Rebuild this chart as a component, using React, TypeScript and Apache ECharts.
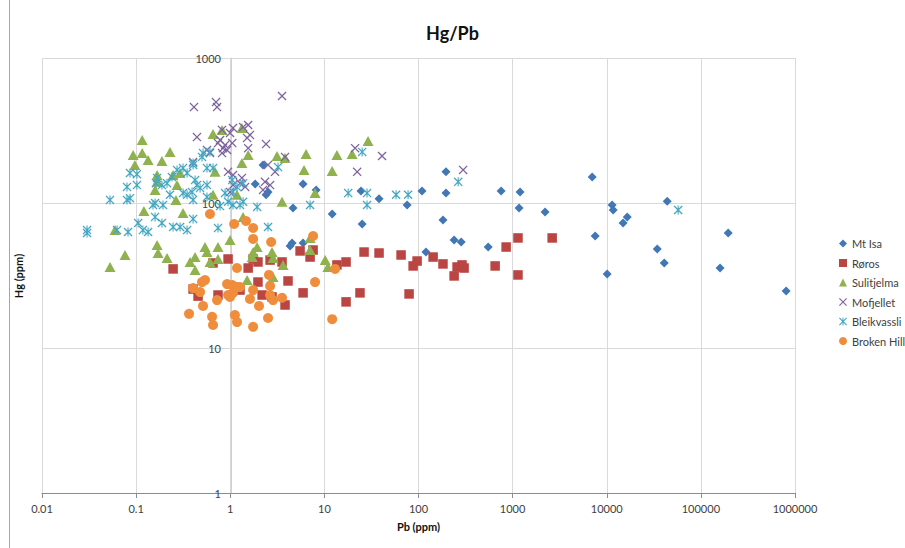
import React, { useEffect, useRef } from "react";
import * as echarts from "echarts";

const xTickLabels = ["0.01", "0.1", "1", "10", "100", "1000", "10000", "100000", "1000000"];
const yTickLabels = ["1", "10", "100", "1000"];
const seriesNames = ["Mt Isa", "Røros", "Sulitjelma", "Mofjellet", "Bleikvassli", "Broken Hill"];

const mtIsa: [number, number][] = [
  [2.23, 183], [1.84, 135], [2.4, 114], [2.52, 119], [5.94, 135], [8.17, 123], [4.64, 92.4], [12.1, 84],
  [4.54, 53], [5.94, 53], [4.32, 50.5], [24.5, 121], [25.2, 71.6], [38.1, 107], [75.7, 96.9], [109, 121],
  [196, 164], [196, 117], [182, 76.3], [120, 45.9], [239, 55.6], [284, 53.8], [550, 49.7], [755, 121],
  [1200, 119], [1170, 92.4], [2210, 86.7], [7000, 151], [7540, 59.2], [11400, 96.9], [11700, 89.5],
  [16500, 80], [14900, 72.8], [10100, 32.4], [43900, 103], [34400, 48.2], [40800, 38.6], [195000, 62.1],
  [160000, 35.6], [805000, 24.7],
];

const roros: [number, number][] = [
  [0.247, 35.1], [0.403, 25.5], [0.455, 22.8], [0.656, 38.6], [0.741, 23.2], [0.948, 41.1], [1.27, 25.1],
  [1.55, 35.6], [1.75, 41.1], [1.97, 39.2], [1.97, 28.5], [2.18, 23.2], [2.65, 40.4], [2.78, 22.5],
  [3.55, 39.2], [4.11, 29.0], [3.82, 19.8], [5.52, 46.7], [5.94, 24.0], [7.05, 42.4], [7.59, 47.4],
  [13.6, 37.4], [17.0, 39.2], [17.0, 20.8], [23.9, 24.0], [26.4, 45.9], [38.1, 45.2], [65.3, 43.8],
  [79.4, 23.6], [87.7, 36.8], [96.6, 39.8], [143, 42.4], [182, 38.0], [239, 31.4], [257, 36.2],
  [290, 37.4], [305, 35.6], [652, 36.8], [853, 49.7], [1140, 57.4], [1140, 31.9], [2630, 57.4],
];

const sulitjelma: [number, number][] = [
  [0.116, 272], [0.093, 214], [0.116, 221], [0.134, 198], [0.188, 195], [0.229, 225], [0.097, 183],
  [0.167, 156], [0.247, 156], [0.293, 161], [0.656, 299], [0.818, 319], [1.33, 329], [1.55, 214],
  [1.33, 189], [0.689, 164], [0.167, 140], [0.272, 133], [0.159, 123], [0.656, 114], [0.265, 105],
  [1.18, 114], [3.14, 211], [3.82, 204], [6.39, 218], [6.08, 169], [7.96, 117], [13.6, 214], [19.7, 218],
  [29.1, 268], [12.1, 166], [3.55, 102], [0.121, 88.1], [0.315, 85.3], [0.0597, 65.1], [0.995, 55.6],
  [1.37, 80.1], [0.167, 51.3], [0.171, 45.2], [0.213, 41.8], [0.0762, 43.8], [0.0528, 36.2], [0.374, 39.2],
  [0.423, 42.4], [0.539, 49.7], [0.566, 45.9], [0.741, 49.7], [0.609, 39.2], [0.741, 41.1], [1.71, 42.4],
  [1.75, 45.9], [1.93, 49.7], [2.78, 45.9], [2.85, 41.8], [3.64, 37.4], [7.05, 47.4], [7.05, 57.4],
  [10.2, 40.4], [10.9, 36.2], [1.51, 29.4], [2.85, 30.9], [0.423, 34.5],
];

const mofjellet: [number, number][] = [
  [0.412, 459], [0.706, 497], [0.724, 459], [3.55, 547], [0.443, 285], [0.818, 319], [0.995, 304],
  [1.07, 329], [1.37, 334], [1.55, 345], [0.78, 272], [0.881, 251], [1.05, 259], [0.925, 232], [0.818, 221],
  [1.51, 281], [1.55, 239], [1.62, 295], [2.4, 255], [3.82, 208], [0.403, 192], [0.566, 232], [0.609, 221],
  [0.948, 164], [1.07, 156], [1.33, 149], [1.07, 133], [1.27, 137], [0.995, 119], [1.44, 129], [2.52, 183],
  [2.99, 164], [2.34, 140], [2.65, 133], [2.23, 123], [21.2, 239], [41.0, 211], [22.3, 164], [298, 169],
  [0.741, 259], [0.838, 239],
];

const bleikvassli: [number, number][] = [
  [0.0301, 65.1], [0.0301, 62.1], [0.0528, 105], [0.0627, 65.1], [0.08, 129], [0.08, 105], [0.0861, 161],
  [0.0861, 108], [0.102, 158], [0.102, 133], [0.082, 63.1], [0.105, 72.8], [0.118, 65.1], [0.134, 63.1],
  [0.151, 96.9], [0.193, 96.9], [0.159, 80.1], [0.188, 72.8], [0.247, 68.3], [0.293, 68.3], [0.348, 65.1],
  [0.403, 77.6], [0.159, 100], [0.167, 149], [0.188, 133], [0.163, 137], [0.213, 137], [0.24, 151],
  [0.272, 169], [0.315, 174], [0.348, 161], [0.403, 183], [0.443, 133], [0.478, 127], [0.566, 133],
  [0.566, 174], [0.514, 221], [0.609, 225], [0.656, 174], [0.393, 119], [0.315, 117], [0.566, 110],
  [0.78, 95.3], [1.07, 96.9], [1.27, 96.9], [1.05, 144], [1.18, 129], [1.37, 137], [1.07, 119], [0.881, 117],
  [0.741, 67.2], [1.93, 93.9], [2.52, 68.3], [3.22, 177], [7.05, 96.9], [17.9, 117], [25.2, 225],
  [28.4, 117], [28.4, 96.9], [57.8, 114], [77.5, 114], [264, 140], [57400, 89.5], [0.229, 114],
  [0.348, 114], [0.403, 105], [0.948, 102], [1.37, 102], [0.423, 144], [0.501, 208], [0.403, 189],
];

const brokenHill: [number, number][] = [
  [0.609, 84.0], [1.1, 71.6], [1.47, 75.1], [1.75, 67.2], [1.75, 56.5], [2.72, 53.8], [7.59, 59.2],
  [1.18, 35.6], [2.58, 31.9], [7.96, 28.5], [13.0, 35.1], [0.501, 28.5], [0.539, 29.4], [0.403, 25.9],
  [0.478, 24.3], [0.925, 27.6], [1.05, 27.2], [1.18, 26.3], [1.27, 26.3], [1.75, 25.1], [0.948, 23.2],
  [1.07, 24.0], [0.995, 22.5], [2.65, 26.8], [2.65, 23.2], [2.85, 21.4], [3.55, 22.2], [1.62, 21.8],
  [0.724, 21.4], [0.514, 19.5], [2.02, 19.5], [0.365, 17.2], [0.641, 16.4], [0.656, 14.4], [1.12, 16.9],
  [1.18, 15.1], [1.75, 14.0], [2.52, 16.1], [12.1, 15.8],
];

const seriesData = [mtIsa, roros, sulitjelma, mofjellet, bleikvassli, brokenHill];
const colors = ["#4277B6", "#BA4542", "#8FB24E", "#7F63A1", "#44A8C3", "#F08D3C"];
const xPath = "path://M0,1L1,0L5,4L9,0L10,1L6,5L10,9L9,10L5,6L1,10L0,9L4,5Z";
const starPath =
  "path://M0,1L1,0L5,4L9,0L10,1L6,5L10,9L9,10L5,6L1,10L0,9L4,5Z M4.4,0L5.6,0L5.6,10L4.4,10Z";
const symbols = ["diamond", "rect", "triangle", xPath, starPath, "circle"];
const symbolSizes: any[] = [9, 9.5, [11, 10], 9, 9, 10];

const FONT = "Lato, Calibri, 'Open Sans', sans-serif";

function fmtLog(v: number, labels: string[], offset: number) {
  const i = Math.round(Math.log10(v)) + offset;
  return labels[i] ?? "";
}

export default function App() {
  const ref = useRef<HTMLDivElement>(null);
  useEffect(() => {
    if (!ref.current) return;
    const chart = echarts.init(ref.current, undefined, { renderer: "svg" });
    chart.setOption({
      animation: false,
      backgroundColor: "#ffffff",
      textStyle: { fontFamily: FONT },
      title: {
        text: "Hg/Pb",
        left: "center",
        top: 19,
        textStyle: { fontSize: 18, fontWeight: "bold", color: "#111", fontFamily: FONT },
      },
      legend: {
        orient: "vertical",
        left: 834,
        top: 233,
        itemWidth: 8,
        itemHeight: 8,
        itemGap: 8.5,
        data: seriesNames,
        textStyle: { fontSize: 11, color: "#404040", fontFamily: FONT },
      },
      grid: { left: 42, top: 58, width: 753, height: 435, containLabel: false },
      xAxis: {
        type: "log",
        logBase: 10,
        min: 0.01,
        max: 1000000,
        name: "Pb (ppm)",
        nameLocation: "middle",
        nameGap: 28,
        nameTextStyle: { fontSize: 11, fontWeight: "bold", color: "#111", fontFamily: FONT },
        axisLine: { show: true, lineStyle: { color: "#8c8c8c" } },
        axisTick: { show: true, length: 5, lineStyle: { color: "#8c8c8c" } },
        splitLine: { show: true, lineStyle: { color: "#d9d9d9", width: 1 } },
        axisLabel: {
          fontSize: 11,
          color: "#404040",
          margin: 10,
          fontFamily: FONT,
          formatter: (v: number) => fmtLog(v, xTickLabels, 2),
        },
      },
      yAxis: {
        type: "log",
        logBase: 10,
        min: 1,
        max: 1000,
        offset: -189,
        axisLine: { show: true, lineStyle: { color: "#d0d0d0" } },
        axisTick: { show: false },
        splitLine: { show: true, lineStyle: { color: "#d9d9d9", width: 1 } },
        axisLabel: {
          fontSize: 11,
          color: "#404040",
          margin: 10,
          fontFamily: FONT,
          formatter: (v: number) => fmtLog(v, yTickLabels, 0),
        },
      },
      graphic: [
        {
          type: "line",
          shape: { x1: 9.5, y1: 0, x2: 9.5, y2: 548 },
          style: { stroke: "#a6a6a6", lineWidth: 1 },
        },
        {
          type: "text",
          x: 18,
          y: 276,
          rotation: Math.PI / 2,
          style: {
            text: "Hg (ppm)",
            font: `bold 11px ${FONT}`,
            fill: "#111",
            align: "center",
            verticalAlign: "middle",
          },
        },
      ],
      series: seriesNames.map((name, i) => ({
        name,
        type: "scatter",
        data: seriesData[i],
        symbol: symbols[i],
        symbolSize: symbolSizes[i],
        itemStyle: { color: colors[i], opacity: 1 },
        emphasis: { disabled: true },
        z: 2 + i,
      })),
    });
    return () => chart.dispose();
  }, []);
  return (
    <div
      ref={ref}
      style={{ position: "fixed", left: 0, top: 0, width: 905, height: 548, background: "#fff" }}
    />
  );
}
